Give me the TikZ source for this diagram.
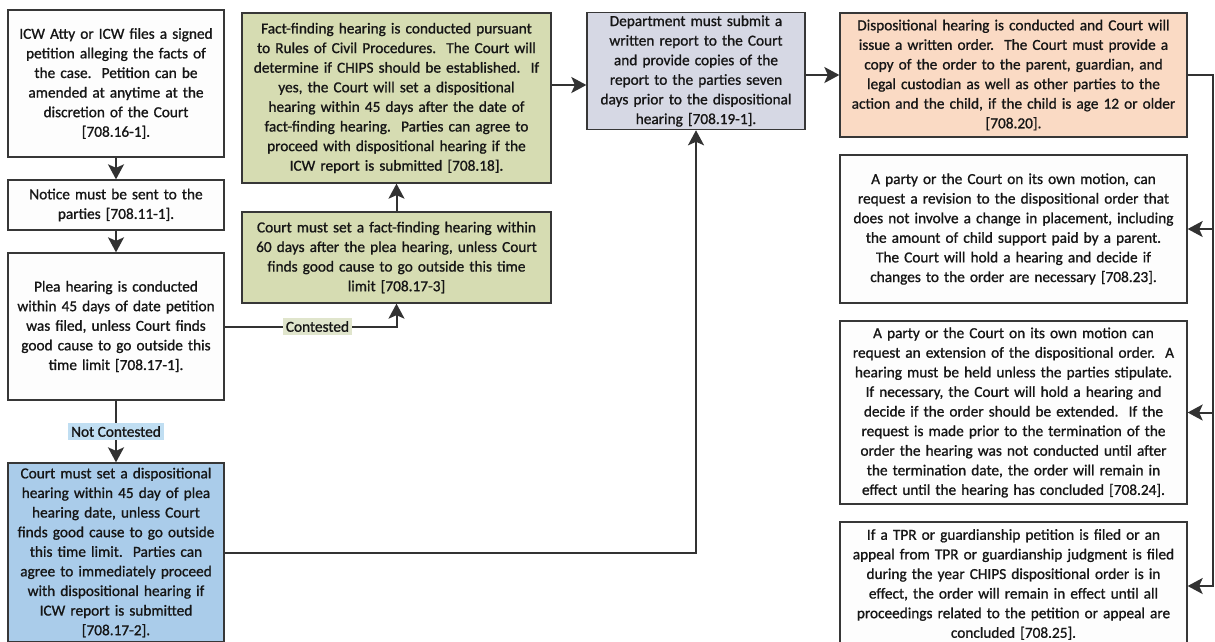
\documentclass[tikz,border=0pt]{standalone}
\usepackage{fontspec}
\setmainfont{Carlito}[FakeBold=1.0]
\usetikzlibrary{arrows.meta,calc}
\definecolor{boxline}{RGB}{55,55,55}
\definecolor{arrcol}{RGB}{50,50,50}
\definecolor{txt}{RGB}{22,22,22}
\definecolor{greenfill}{RGB}{214,220,178}
\definecolor{bluefill}{RGB}{170,204,234}
\definecolor{grayfill}{RGB}{214,216,228}
\definecolor{orangefill}{RGB}{250,218,196}
\definecolor{whitefill}{RGB}{253,253,253}
\definecolor{lblgreen}{RGB}{224,229,204}
\definecolor{lblblue}{RGB}{192,222,242}
\begin{document}
\begin{tikzpicture}[x=1pt,y=-1pt,
  box/.style={draw=boxline, line width=1.3pt, align=center, inner sep=3pt,
    font=\fontsize{15.3}{19.6}\selectfont, text=txt},
  arr/.style={draw=arrcol, line width=2pt, -{Stealth[length=15pt,width=16pt,inset=3.5pt]}},
  lbl/.style={font=\fontsize{15.3}{18}\selectfont, text=txt, inner sep=3pt}]
\useasboundingbox (0,0) rectangle (1215,641);
\fill[white] (0,0) rectangle (1215,641);

% left column
\node[box, fill=whitefill, minimum width=216pt, minimum height=147pt, text width=210pt] (b1) at (116,83.5)
 {ICW Atty or ICW files a signed\\petition alleging the facts of\\the case.\ \ Petition can be\\amended at anytime at the\\discretion of the Court\\{[708.16-1].}};
\node[box, fill=whitefill, minimum width=216pt, minimum height=50pt, text width=210pt] (b2) at (116,205)
 {Notice must be sent to the\\parties [708.11-1].};
\node[box, fill=whitefill, minimum width=216pt, minimum height=147pt, text width=210pt] (b3) at (116,326.5)
 {Plea hearing is conducted\\within 45 days of date petition\\was filed, unless Court finds\\good cause to go outside this\\time limit [708.17-1].};
\node[box, fill=bluefill, minimum width=216pt, minimum height=179pt, text width=210pt] (b4) at (116,552.5)
 {Court must set a dispositional\\hearing within 45 day of plea\\hearing date, unless Court\\finds good cause to go outside\\this time limit.\ \ Parties can\\agree to immediately proceed\\with dispositional hearing if\\ICW report is submitted\\{[708.17-2].}};

% middle column
\node[box, fill=greenfill, minimum width=309pt, minimum height=170pt, text width=303pt] (b5) at (396.5,98)
 {Fact-finding hearing is conducted pursuant\\to Rules of Civil Procedures.\ \ The Court will\\determine if CHIPS should be established.\ \ If\\yes, the Court will set a dispositional\\hearing within 45 days after the date of\\fact-finding hearing.\ \ Parties can agree to\\proceed with dispositional hearing if the\\ICW report is submitted [708.18].};
\node[box, fill=greenfill, minimum width=309pt, minimum height=91pt, text width=303pt] (b6) at (396.5,257.5)
 {Court must set a fact-finding hearing within\\60 days after the plea hearing, unless Court\\finds good cause to go outside this time\\limit [708.17-3]};
\node[box, fill=grayfill, minimum width=218pt, minimum height=116pt, text width=212pt] (b7) at (696,71)
 {Department must submit a\\written report to the Court\\and provide copies of the\\report to the parties seven\\days prior to the dispositional\\hearing [708.19-1].};

% right column
\node[box, fill=orangefill, minimum width=347pt, minimum height=124pt, text width=341pt] (b8) at (1013.5,75)
 {Dispositional hearing is conducted and Court will\\issue a written order.\ \ The Court must provide a\\copy of the order to the parent, guardian, and\\legal custodian as well as other parties to the\\action and the child, if the child is age 12 or older\\{[708.20].}};
\node[box, fill=whitefill, minimum width=347pt, minimum height=148pt, text width=341pt] (b9) at (1013.5,229)
 {A party or the Court on its own motion, can\\request a revision to the dispositional order that\\does not involve a change in placement, including\\the amount of child support paid by a parent.\\The Court will hold a hearing and decide if\\changes to the order are necessary [708.23].};
\node[box, fill=whitefill, minimum width=347pt, minimum height=183pt, text width=341pt] (b10) at (1013.5,412.5)
 {A party or the Court on its own motion can\\request an extension of the dispositional order.\ \ A\\hearing must be held unless the parties stipulate.\\If necessary, the Court will hold a hearing and\\decide if the order should be extended.\ \ If the\\request is made prior to the termination of the\\order the hearing was not conducted until after\\the termination date, the order will remain in\\effect until the hearing has concluded [708.24].};
\node[box, fill=whitefill, minimum width=347pt, minimum height=125pt, text width=341pt] (b11) at (1013.5,584.5)
 {If a TPR or guardianship petition is filed or an\\appeal from TPR or guardianship judgment is filed\\during the year CHIPS dispositional order is in\\effect, the order will remain in effect until all\\proceedings related to the petition or appeal are\\concluded [708.25].};

% connectors
\draw[arr] (b1) -- (b2);
\draw[arr] (b2) -- (b3);
\draw[arr] (b3) -- node[lbl, fill=lblblue] {Not Contested} (b4);
\draw[arr] (b3.east) -| node[lbl, fill=lblgreen, pos=0.27] {Contested} (b6.south);
\draw[arr] (b6) -- (b5);
\draw[arr] (b5.east |- 0,85) -- (b7.west |- 0,85);
\draw[arr] (b7.east |- b8.west) -- (b8.west);
\draw[arr] (b4.east) -| (b7.south);
\coordinate (bus) at (1213,75);
\draw[arr] (b8.east) -- (bus) |- (b9.east);
\draw[arr] (b8.east) -- (bus) |- (b10.east);
\draw[arr] (b8.east) -- (bus) |- ([yshift=-1.5pt]b11.east);
\end{tikzpicture}
\end{document}
